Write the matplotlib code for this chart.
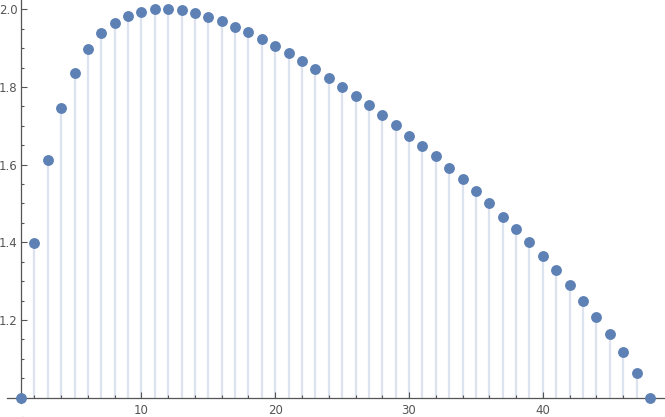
import matplotlib
matplotlib.use("Agg")
import matplotlib.pyplot as plt
from matplotlib.ticker import FixedLocator, MultipleLocator

# discrete values, n = 1..48
n = list(range(1, 49))
vals = [1.000, 1.397, 1.613, 1.745, 1.837, 1.897, 1.938, 1.966, 1.984, 1.994,
        2.000, 2.001, 1.998, 1.991, 1.981, 1.969, 1.955, 1.942, 1.924, 1.906,
        1.888, 1.868, 1.847, 1.824, 1.801, 1.778, 1.754, 1.729, 1.703, 1.675,
        1.649, 1.621, 1.591, 1.562, 1.531, 1.500, 1.466, 1.433, 1.400, 1.364,
        1.328, 1.289, 1.250, 1.207, 1.163, 1.117, 1.063, 1.000]
x_ticks = [10, 20, 30, 40]
y_ticks = [1.2, 1.4, 1.6, 1.8, 2.0]
base = 1.0

fig = plt.figure(figsize=(6.65, 4.17), dpi=100)
ax = fig.add_axes([0, 0, 1, 1])

ax.vlines(n, base, vals, colors="#dde3ee", linewidth=1.6, zorder=1)
ax.plot(n, vals, "o", color="#5e81b5", markersize=6.8, clip_on=False, zorder=3)

ax.set_xlim(-0.57, 49.13)
ax.set_ylim(0.950, 2.024)

for s in ("top", "right"):
    ax.spines[s].set_visible(False)
ax.spines["left"].set_position(("data", 1))
ax.spines["bottom"].set_position(("data", base))
ax.spines["left"].set_bounds(0.987, 2.024)
ax.spines["bottom"].set_bounds(-0.05, 49.13)
for s in ("left", "bottom"):
    ax.spines[s].set_color("#555555")
    ax.spines[s].set_linewidth(0.9)

ax.set_xticks(x_ticks)
ax.set_yticks(y_ticks)
ax.set_yticklabels([f"{v:.1f}" for v in y_ticks])
ax.xaxis.set_minor_locator(FixedLocator([k for k in range(2, 49, 2) if k % 10]))
ax.yaxis.set_minor_locator(MultipleLocator(0.05))
ax.tick_params(which="both", direction="in", color="#555555", labelcolor="#555555",
               labelsize=8.5, width=0.8)
ax.tick_params(which="major", length=4.5)
ax.tick_params(which="minor", length=2.5)
ax.tick_params(axis="x", which="major", pad=4.5)
ax.tick_params(axis="y", which="major", pad=2.5)

fig.savefig("out.png", dpi=100)
